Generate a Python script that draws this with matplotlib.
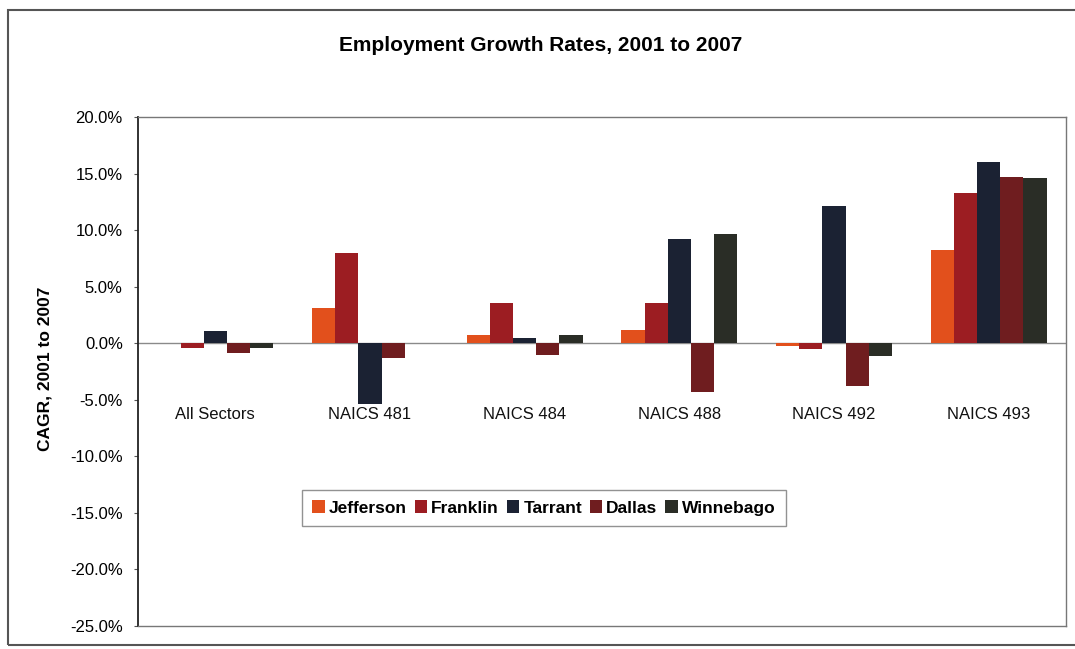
import matplotlib.pyplot as plt
import numpy as np
from matplotlib.patches import Rectangle
from matplotlib.ticker import FuncFormatter

plt.rcParams["font.family"] = ["Liberation Sans", "DejaVu Sans"]

CATEGORIES = ["All Sectors", "NAICS 481", "NAICS 484", "NAICS 488", "NAICS 492", "NAICS 493"]
SERIES = ["Jefferson", "Franklin", "Tarrant", "Dallas", "Winnebago"]

# CAGR in percent
JEFFERSON = [0.0, 3.1, 0.7, 1.2, -0.2, 8.2]
FRANKLIN = [-0.4, 8.0, 3.6, 3.6, -0.5, 13.3]
TARRANT = [1.1, -5.4, 0.5, 9.2, 12.1, 16.0]
DALLAS = [-0.9, -1.3, -1.0, -4.3, -3.8, 14.7]
WINNEBAGO = [-0.4, 0.0, 0.7, 9.7, -1.1, 14.6]

COLORS = {
    "Jefferson": "#e2501c",
    "Franklin": "#9c1d22",
    "Tarrant": "#1b2233",
    "Dallas": "#6f1d1f",
    "Winnebago": "#2a2d26",
}

Y_TICKS = [20, 15, 10, 5, 0, -5, -10, -15, -20, -25]

values = [JEFFERSON, FRANKLIN, TARRANT, DALLAS, WINNEBAGO]

fig = plt.figure(figsize=(10.75, 6.49), dpi=100)
ax = fig.add_axes([0.1284, 0.0354, 0.8632, 0.7843])

x = np.arange(len(CATEGORIES))
w = 0.15
for i, (name, vals) in enumerate(zip(SERIES, values)):
    ax.bar(x + (i - 2) * w, vals, width=w, color=COLORS[name], label=name, zorder=3)

ax.axhline(0, color="#8a8a8a", lw=1.0, zorder=2)
ax.set_xlim(-0.5, len(CATEGORIES) - 0.5)
ax.set_ylim(-25, 20)
ax.set_yticks(Y_TICKS)
ax.yaxis.set_major_formatter(FuncFormatter(lambda v, p: f"{v:.1f}%"))
ax.tick_params(axis="y", labelsize=12, length=3, pad=8, direction="out", color="#555555")
ax.set_xticks([])

for xi, cat in zip(x, CATEGORIES):
    ax.text(xi, -5.6, cat, ha="center", va="top", fontsize=12, color="#111111")

ax.spines["left"].set_color("#222222")
ax.spines["left"].set_linewidth(1.3)
for s in ("top", "right", "bottom"):
    ax.spines[s].set_color("#777777")
    ax.spines[s].set_linewidth(1.0)

ax.set_ylabel("CAGR, 2001 to 2007", fontsize=12.5, fontweight="bold")
ax.yaxis.set_label_coords(-0.092, 0.505)

fig.text(0.503, 0.93, "Employment Growth Rates, 2001 to 2007", ha="center", va="center",
         fontsize=15, fontweight="bold")

leg = ax.legend(loc="center", bbox_to_anchor=(0.4375, 0.232), ncol=5,
                prop={"size": 12.5, "weight": "bold"},
                frameon=True, fancybox=False, edgecolor="#777777", handlelength=0.7,
                handleheight=0.7, handletextpad=0.25, columnspacing=0.45,
                borderpad=0.6, borderaxespad=0)
leg.get_frame().set_linewidth(1.0)

# outer chart border
fig.patches.append(Rectangle((8 / 1075, 4 / 649), 1.2, 635 / 649, transform=fig.transFigure,
                             fill=False, edgecolor="#555555", lw=1.5))

fig.savefig("out.png", dpi=100)
